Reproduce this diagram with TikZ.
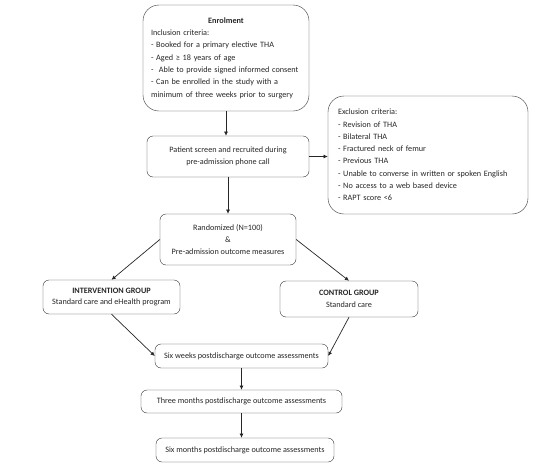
\documentclass[tikz,border=0pt]{standalone}
\usepackage{fontspec}
\setmainfont{Carlito}
\usetikzlibrary{positioning, arrows.meta}
\tikzset{
	block/.style={draw=black!80, rounded corners=6pt, align=center, inner sep=2pt, text=black!85, font=\fontsize{8.2}{12.3}\selectfont},
	listblock/.style={block, rounded corners=16pt, align=left, inner xsep=#1},
	flow/.style={-{Latex[length=4.2pt,width=4pt]}, line width=0.7pt, draw=black!85}
}

\begin{document}
\begin{tikzpicture}[x=1pt, y=-1pt]
		\useasboundingbox (0,0) rectangle (536,466);
		
		\node[listblock=8pt, text width=150pt, minimum height=106pt] (enrol) at (226,58) {\hbox to \hsize{\hfil\textbf{Enrolment}\hfil}\\ Inclusion criteria:\\ - Booked for a primary elective THA\\ - Aged ≥ 18 years of age\\ -\ \ Able to provide signed informed consent\\ - Can be enrolled in the study with a\\ minimum of three weeks prior to surgery};
		
		\node[block, minimum width=162pt, minimum height=41pt] (patient) at (228,156.5) {Patient screen and recruited during\\ pre-admission phone call};
		
		\node[listblock=10pt, text width=180pt, minimum height=118pt] (exclusion) at (428,155) {Exclusion criteria:\\ - Revision of THA\\ - Bilateral THA\\ - Fractured neck of femur\\ - Previous THA\\ - Unable to converse in written or spoken English\\ - No access to a web based device\\ - RAPT score <6};
		
		\node[block, minimum width=136pt, minimum height=51pt] (random) at (228,239.5) {Randomized (N=100)\\ \&\\ Pre-admission outcome measures};
		
		\node[block, minimum width=137pt, minimum height=34pt, font=\fontsize{8.2}{11.7}\selectfont] (intervention) at (111.5,297) {\textbf{INTERVENTION GROUP}\\ Standard care and eHealth program};
		
		\node[block, minimum width=138pt, minimum height=36pt, font=\fontsize{8.2}{11.7}\selectfont] (control) at (349,299) {\textbf{CONTROL GROUP}\\ Standard care};
		
		\node[block, minimum width=173pt, minimum height=24pt] (sixweeks) at (241.5,356) {Six weeks postdischarge outcome assessments};
		
		\node[block, minimum width=201pt, minimum height=23pt] (threemonths) at (241.5,401.5) {Three months postdischarge outcome assessments};
		
		\node[block, minimum width=178pt, minimum height=24pt] (sixmonths) at (245,450) {Six months postdischarge outcome assessments};
		
		\draw[flow] (enrol.south) -- (enrol.south |- patient.north);
		\draw[flow] (patient.east) -- (patient.east -| exclusion.west);
		\draw[flow] (patient.south) -- (random.north);
		
		\draw[flow] (random.west) -- (intervention.north);
		\draw[flow] (random.east) -- (control.north);
		
		\draw[flow] (intervention.south) -- (sixweeks.west);
		\draw[flow] (control.south) -- (sixweeks.east);
		
		\draw[flow] (sixweeks.south) -- (threemonths.north);
		\draw[flow] (threemonths.south) -- (threemonths.south |- sixmonths.north);
	\end{tikzpicture}
\end{document}
